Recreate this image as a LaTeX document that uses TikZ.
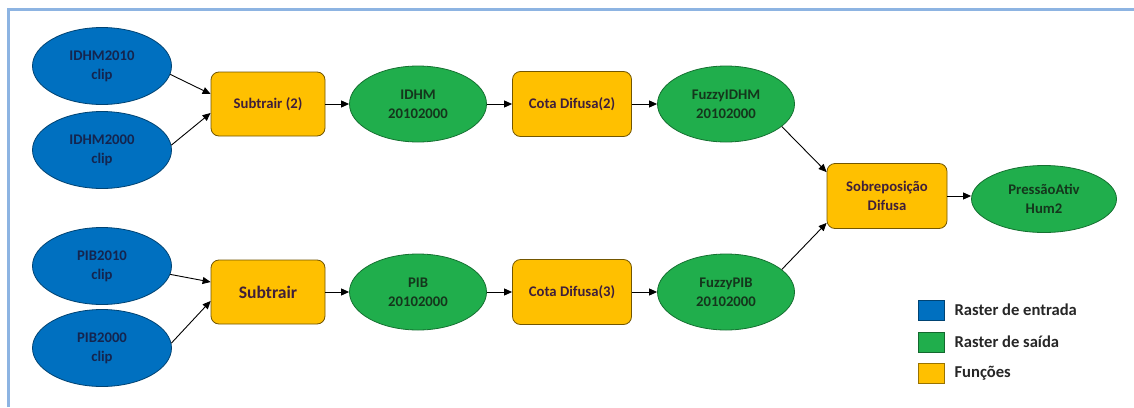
\documentclass[tikz,border=0pt]{standalone}
\usepackage{fontspec}
\setmainfont{Carlito}
\usetikzlibrary{arrows.meta,shapes.geometric,positioning}
\definecolor{inblue}{HTML}{0070C0}
\definecolor{intext}{HTML}{14254F}
\definecolor{outgreen}{HTML}{20AE4C}
\definecolor{outtext}{HTML}{14361C}
\definecolor{fngold}{HTML}{FFC000}
\definecolor{fntext}{HTML}{3F1F3A}
\definecolor{framec}{HTML}{8DB4E2}
\tikzset{
  inp/.style={ellipse,draw=inblue!60!black,line width=0.8pt,fill=inblue,text=intext,minimum width=139pt,minimum height=77pt,inner sep=0pt,align=center,font=\bfseries\fontsize{14.7}{19}\selectfont},
  outp/.style={ellipse,draw=outgreen!65!black,line width=0.8pt,fill=outgreen,text=outtext,minimum width=137pt,minimum height=76pt,inner sep=0pt,align=center,font=\bfseries\fontsize{14.7}{19}\selectfont},
  fn/.style={draw=fngold!45!black,line width=0.8pt,rounded corners=8pt,fill=fngold,text=fntext,minimum width=119pt,minimum height=65pt,inner sep=0pt,align=center,font=\bfseries\fontsize{14.7}{19}\selectfont},
  fl/.style={-{Triangle[length=8pt,width=7pt]},draw=black,line width=0.9pt},
  legbox/.style={draw=#1!60!black,line width=0.8pt,fill=#1,minimum width=26pt,minimum height=20pt,inner sep=0pt},
  legtext/.style={text=black!85,font=\bfseries\fontsize{16.6}{20}\selectfont,inner sep=0pt},
  frame/.style={draw=framec,line width=3pt},
}
\begin{document}
\begin{tikzpicture}[x=1pt,y=-1pt]
\useasboundingbox (0,0) rectangle (1134,407);
\fill[white] (0,0) rectangle (1134,407);
\draw[frame] (8.5,407) |- (1134,9.5);
% the two subtraction rows
\foreach \k/\nm/\ya/\yb/\ym/\sub/\fs/\cota in {
  h/IDHM/66/150/104/{Subtrair (2)}/14.7/{Cota Difusa(2)},
  p/PIB/266/348/292/{Subtrair}/17.6/{Cota Difusa(3)}} {
  \node[inp] (\k in1) at (102,\ya) {\nm2010\\clip};
  \node[inp] (\k in2) at (102,\yb) {\nm2000\\clip};
  \node[fn,minimum width=114pt,minimum height=64pt,font=\bfseries\fontsize{\fs}{20}\selectfont] (\k sub) at (268,\ym) {\sub};
  \node[outp] (\k out) at (418,\ym) {\nm\\20102000};
  \node[fn] (\k cota) at (572,\ym) {\cota};
  \node[outp] (\k fz) at (726,\ym) {Fuzzy\nm\\20102000};
  \draw[fl] (\k in1.-7) -- ([yshift=10pt]\k sub.west);
  \draw[fl] (\k in2.4) -- ([yshift=-9pt]\k sub.west);
  \draw[fl] (\k sub) -- (\k out);
  \draw[fl] (\k out) -- (\k cota);
  \draw[fl] (\k cota) -- (\k fz);
}
\node[fn,minimum width=120pt] (sob) at (887,196) {Sobreposição\\Difusa};
\node[outp,minimum width=145pt,minimum height=67pt] (pres) at (1044,199) {PressãoAtiv\\Hum2};
\draw[fl] (hfz.-22) -- ([yshift=-9pt]sob.north west);
\draw[fl] (pfz.22) -- ([yshift=6pt]sob.south west);
\draw[fl] (sob.east) -- (pres.west |- sob.east);
% legend
\foreach \c/\t/\y in {inblue/Raster de entrada/310,outgreen/Raster de saída/342,fngold/Funções/373} {
  \node[legbox=\c] (leg\y) at (931,\y) {};
  \node[legtext,right=10pt of leg\y] (legt\y) {\t};
}
\end{tikzpicture}
\end{document}
